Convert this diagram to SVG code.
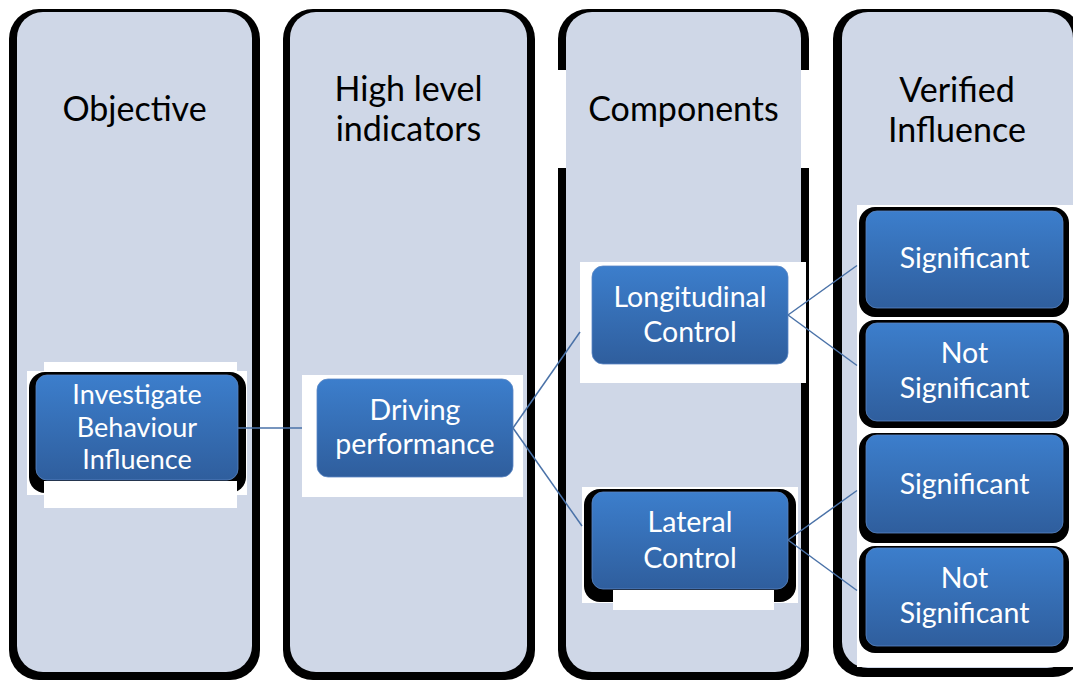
<svg xmlns="http://www.w3.org/2000/svg" width="1073" height="680" viewBox="0 0 1073 680">
  <defs>
    <linearGradient id="blue" x1="0" y1="0" x2="0" y2="1">
      <stop offset="0" stop-color="#3c7ecc"/>
      <stop offset="1" stop-color="#2f5e9d"/>
    </linearGradient>
    <style>
      .colbk { fill: #000; }
      .colfill { fill: #cfd7e7; }
      .title { font-family: Lato, "Open Sans", sans-serif; font-size: 34px; fill: #000; text-anchor: middle; }
      .node { fill: url(#blue); stroke: #5b86c4; stroke-width: 0.8; }
      .shadow { fill: #000; }
      .patch { fill: #fff; }
      .label { font-family: Lato, "Open Sans", sans-serif; font-size: 28.5px; fill: #fff; text-anchor: middle; }
      .small { font-size: 27px; }
      .edge { stroke: #4a72a8; stroke-width: 1.5; fill: none; }
    </style>
  </defs>
  <rect width="1073" height="680" fill="#fff"/>

  <!-- columns -->
  <g id="col-objective">
    <rect class="colbk" x="9" y="9" width="251" height="671" rx="30"/>
    <rect class="colfill" x="17" y="12" width="235" height="660" rx="26"/>
    <text class="title" x="134.5" y="121">Objective</text>
  </g>
  <g id="col-indicators">
    <rect class="colbk" x="283" y="9" width="252" height="671" rx="30"/>
    <rect class="colfill" x="290" y="12" width="237" height="660" rx="26"/>
    <text class="title" x="408.5" y="101">High level</text>
    <text class="title" x="408.5" y="141">indicators</text>
  </g>
  <g id="col-components">
    <rect class="colbk" x="558" y="9" width="251" height="671" rx="30"/>
    <rect class="patch" x="554" y="70" width="259" height="98"/>
    <rect class="colfill" x="566" y="12" width="235" height="660" rx="26"/>
    <text class="title" x="683.5" y="121">Components</text>
  </g>
  <g id="col-verified">
    <rect class="colbk" x="833" y="9" width="250" height="668" rx="30"/>
    <rect class="colfill" x="842" y="12" width="231" height="656" rx="26"/>
    <text class="title" x="957" y="102">Verified</text>
    <text class="title" x="957" y="142">Influence</text>
  </g>

  <!-- nodes -->
  <g id="node-investigate">
    <rect class="patch" x="44" y="362" width="193" height="146"/>
    <rect class="patch" x="27" y="371" width="220" height="124"/>
    <rect class="shadow" x="29" y="372" width="217" height="121" rx="16"/>
    <rect class="patch" x="44" y="481" width="193" height="27"/>
    <rect class="node" x="36" y="375" width="202" height="105" rx="11"/>
    <text class="label small" x="137" y="404">Investigate</text>
    <text class="label small" x="137" y="437">Behaviour</text>
    <text class="label small" x="137" y="469">Influence</text>
  </g>
  <g id="node-driving">
    <rect class="patch" x="302" y="375" width="221" height="122"/>
    <rect class="node" x="317" y="379" width="196" height="98" rx="11"/>
    <text class="label" x="415" y="420">Driving</text>
    <text class="label" x="415" y="454">performance</text>
  </g>
  <g id="node-longitudinal">
    <rect class="patch" x="580" y="262" width="226" height="121"/>
    <rect class="node" x="592" y="266" width="196" height="98" rx="11"/>
    <text class="label" x="690" y="307">Longitudinal</text>
    <text class="label" x="690" y="342">Control</text>
  </g>
  <g id="node-lateral">
    <rect class="patch" x="582" y="487" width="216" height="116"/>
    <rect class="shadow" x="584" y="489" width="212" height="113" rx="16"/>
    <rect class="patch" x="613" y="590" width="161" height="20"/>
    <rect class="node" x="592" y="492" width="196" height="97" rx="11"/>
    <text class="label" x="690" y="532">Lateral</text>
    <text class="label" x="690" y="568">Control</text>
  </g>
  <g id="col4-patch">
    <rect class="patch" x="857" y="205" width="216" height="462"/>
  </g>
  <g id="node-significant-1">
    <rect class="shadow" x="859" y="207" width="210" height="110" rx="16"/>
    <rect class="node" x="866" y="211" width="197" height="97" rx="11"/>
    <text class="label" x="964.5" y="268">Significant</text>
  </g>
  <g id="node-not-significant-1">
    <rect class="shadow" x="859" y="320" width="210" height="108" rx="16"/>
    <rect class="node" x="866" y="323" width="197" height="98" rx="11"/>
    <text class="label" x="964.5" y="363">Not</text>
    <text class="label" x="964.5" y="398">Significant</text>
  </g>
  <g id="node-significant-2">
    <rect class="shadow" x="859" y="433" width="210" height="110" rx="16"/>
    <rect class="node" x="866" y="435" width="197" height="98" rx="11"/>
    <text class="label" x="964.5" y="494">Significant</text>
  </g>
  <g id="node-not-significant-2">
    <rect class="shadow" x="859" y="546" width="210" height="107" rx="16"/>
    <rect class="node" x="866" y="548" width="197" height="98" rx="11"/>
    <text class="label" x="964.5" y="588">Not</text>
    <text class="label" x="964.5" y="623">Significant</text>
  </g>

  <!-- connectors -->
  <g id="connectors">
    <line class="edge" x1="238" y1="428" x2="302" y2="428"/>
    <line class="edge" x1="513" y1="428" x2="580" y2="332"/>
    <line class="edge" x1="513" y1="428" x2="582" y2="526"/>
    <line class="edge" x1="788" y1="315" x2="857" y2="265.5"/>
    <line class="edge" x1="788" y1="315" x2="857" y2="365.5"/>
    <line class="edge" x1="788" y1="540" x2="857" y2="490.5"/>
    <line class="edge" x1="788" y1="540" x2="857" y2="590.5"/>
  </g>
</svg>
